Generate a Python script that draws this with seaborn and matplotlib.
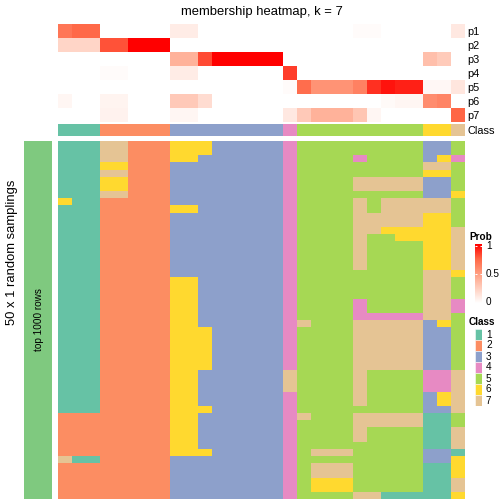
import numpy as np
import pandas as pd
import seaborn as sns
import matplotlib.pyplot as plt
from matplotlib.colors import ListedColormap, LinearSegmentedColormap
from matplotlib.patches import Rectangle

plt.rcParams['font.family'] = ['Liberation Sans', 'DejaVu Sans']

# class colours and names
class_colors = ["#66C2A5", "#FC8D62", "#8DA0CB", "#E78AC3", "#A6D854", "#FFD92F", "#E5C494"]
class_labels = ["1", "2", "3", "4", "5", "6", "7"]
sampling_color = "#7FC97F"

# consensus class of each of the 29 columns
col_class = [1, 1, 1, 2, 2, 2, 2, 2, 3, 3, 3, 3, 3, 3, 3, 3, 4, 5, 5, 5, 5, 5, 5, 5, 5, 5, 6, 6, 7]

# membership probabilities per column (p1 .. p7)
prob_rows = ["p1", "p2", "p3", "p4", "p5", "p6", "p7"]
p1 = [0.68, 0.74, 0.74, 0, 0, 0, 0, 0, 0.10, 0.10, 0, 0, 0, 0, 0, 0, 0, 0, 0, 0, 0, 0.02, 0.02, 0, 0, 0, 0, 0, 0.12]
p2 = [0.22, 0.22, 0.22, 0.80, 0.80, 1, 1, 1, 0, 0, 0, 0, 0, 0, 0, 0, 0, 0, 0, 0, 0, 0, 0, 0, 0, 0, 0, 0, 0]
p3 = [0, 0, 0, 0, 0, 0, 0, 0, 0.40, 0.40, 0.82, 1, 1, 1, 1, 1, 0, 0, 0, 0, 0, 0, 0, 0, 0, 0, 0.33, 0.27, 0]
p4 = [0, 0, 0, 0.02, 0.02, 0, 0, 0, 0.10, 0.10, 0, 0, 0, 0, 0, 0, 0.85, 0, 0, 0, 0, 0, 0, 0, 0, 0, 0, 0, 0]
p5 = [0, 0, 0, 0, 0, 0, 0, 0, 0, 0, 0, 0, 0, 0, 0, 0, 0.02, 0.72, 0.55, 0.55, 0.55, 0.63, 0.88, 0.95, 0.92, 0.92, 0.04, 0.04, 0.13]
p6 = [0.05, 0, 0, 0.06, 0.06, 0, 0, 0, 0.28, 0.28, 0.18, 0, 0, 0, 0, 0, 0, 0, 0, 0, 0, 0, 0, 0.03, 0.05, 0.05, 0.58, 0.62, 0]
p7 = [0, 0, 0, 0.07, 0.07, 0, 0, 0, 0.05, 0.05, 0, 0, 0, 0, 0, 0, 0.12, 0.28, 0.40, 0.40, 0.40, 0.30, 0.05, 0, 0, 0, 0, 0, 0.75]

# class assigned in each of the 50 random samplings (one string per row, spaces only group columns)
samplings = [
    "1 11 77 222 66 6 33333 4 5 555 5 5 5 55 3 3 5",
    "1 11 77 222 66 6 33333 4 5 555 5 5 5 55 3 3 5",
    "1 11 77 222 66 3 33333 4 5 555 4 5 5 55 3 6 4",
    "1 11 66 222 33 3 33333 4 5 555 5 5 5 55 7 7 5",
    "1 11 77 222 33 3 33333 4 5 555 5 5 5 55 6 6 5",
    "1 11 66 222 33 3 33333 4 5 555 7 7 7 77 3 3 5",
    "1 11 66 222 33 3 33333 4 5 555 7 7 7 77 3 3 5",
    "1 11 77 222 33 3 33333 4 5 555 5 5 5 55 3 3 6",
    "6 11 22 222 33 3 33333 4 5 555 7 5 7 77 7 7 5",
    "1 11 22 222 66 3 33333 4 5 555 7 5 7 77 7 7 5",
    "1 11 22 222 33 3 33333 4 5 555 7 7 7 77 6 6 5",
    "1 11 22 222 33 3 33333 4 5 555 7 7 7 77 6 6 5",
    "1 11 22 222 33 3 33333 4 5 555 7 7 6 66 6 6 7",
    "1 11 22 222 33 3 33333 4 5 555 7 5 5 66 6 6 7",
    "1 11 22 222 33 3 33333 4 5 555 7 5 5 55 6 6 7",
    "1 11 22 222 33 3 33333 4 5 555 7 5 5 55 6 6 7",
    "1 11 22 222 33 3 33333 4 5 555 7 5 5 55 6 6 7",
    "1 11 22 222 33 3 33333 4 5 555 7 5 5 55 6 6 7",
    "1 11 22 222 33 3 33333 4 5 555 5 5 5 55 7 7 6",
    "1 11 22 222 66 3 33333 4 5 555 5 5 5 55 7 7 5",
    "1 11 22 222 66 3 33333 4 5 555 5 5 5 55 7 7 5",
    "1 11 22 222 66 3 33333 4 5 555 5 5 5 55 7 7 5",
    "1 11 22 222 66 3 33333 4 5 555 4 5 5 55 7 7 4",
    "1 11 22 222 66 3 33333 4 5 555 4 5 5 55 7 7 4",
    "1 11 22 222 66 3 33333 4 5 555 4 4 4 44 7 7 5",
    "1 11 22 222 66 3 33333 4 7 555 7 7 7 77 3 6 5",
    "1 11 22 222 66 6 33333 4 5 555 7 7 7 77 3 3 5",
    "1 11 22 222 66 6 33333 4 5 555 7 7 7 77 3 3 5",
    "1 11 22 222 66 6 33333 4 5 555 7 7 7 77 3 3 5",
    "1 11 22 222 66 6 33333 4 5 555 7 7 7 77 3 3 5",
    "1 11 22 222 66 6 33333 4 5 555 7 7 7 77 3 3 5",
    "1 11 22 222 66 6 33333 4 5 555 7 7 7 77 3 3 5",
    "1 11 22 222 66 3 33333 7 5 555 7 5 5 55 4 4 7",
    "1 11 22 222 66 3 33333 7 5 555 7 5 5 55 4 4 7",
    "1 11 22 222 66 3 33333 7 5 555 7 5 5 55 4 4 7",
    "1 11 22 222 66 3 33333 4 5 555 7 5 5 55 3 6 7",
    "1 11 22 222 66 3 33333 4 5 555 7 5 5 55 3 6 7",
    "1 11 22 222 66 6 33333 4 5 555 5 5 5 55 3 3 7",
    "2 22 22 222 66 3 33333 4 7 555 7 7 7 77 1 1 5",
    "2 22 22 222 66 3 33333 4 5 555 7 7 7 77 1 1 5",
    "2 22 22 222 66 3 33333 4 5 555 7 5 5 55 1 1 7",
    "2 22 22 222 66 3 33333 4 5 555 7 5 5 55 1 1 7",
    "2 22 22 222 66 3 33333 4 5 555 5 5 5 55 1 1 7",
    "2 22 22 222 66 6 33333 4 5 777 5 5 5 55 3 3 1",
    "7 11 22 222 33 3 33333 4 5 555 5 5 5 55 3 3 6",
    "2 22 22 222 33 3 33333 4 5 777 5 5 5 55 1 1 6",
    "2 22 22 222 33 3 33333 4 5 777 5 5 5 55 1 1 6",
    "2 22 22 222 33 3 33333 4 5 666 5 5 5 55 1 1 7",
    "2 22 22 222 33 3 33333 4 5 666 5 5 5 55 1 1 7",
    "2 22 22 222 33 3 33333 4 5 555 7 7 1 11 1 1 6",
]

main = pd.DataFrame([[int(ch) for ch in row.replace(" ", "")] for row in samplings])
prob = pd.DataFrame([p1, p2, p3, p4, p5, p6, p7], index=prob_rows)

# white -> red ramp (LAB-like midtones)
prob_cmap = LinearSegmentedColormap.from_list(
    "prob", [(0, "#FFFFFF"), (0.25, "#FFCFBF"), (0.5, "#FF9E81"), (0.75, "#FF6746"), (1, "#FF0000")])
class_cmap = ListedColormap(class_colors)

W = H = 504
fig = plt.figure(figsize=(7, 7), dpi=72)


def box(x0, y0, x1, y1):
    return fig.add_axes([x0 / W, 1 - y1 / H, (x1 - x0) / W, (y1 - y0) / H])


def put(x, y, s, **kw):
    fig.text(x / W, 1 - y / H, s, **kw)


# probability rows
ax = box(58, 24, 465, 122)
sns.heatmap(prob, ax=ax, cmap=prob_cmap, vmin=0, vmax=1, cbar=False,
            xticklabels=False, yticklabels=True)
ax.yaxis.tick_right()
ax.tick_params(length=0, pad=2, labelsize=11)
plt.setp(ax.get_yticklabels(), rotation=0)

# class row
ax = box(58, 124, 465, 136)
sns.heatmap(pd.DataFrame([col_class], index=["Class"]), ax=ax, cmap=class_cmap,
            vmin=0.5, vmax=7.5, cbar=False, xticklabels=False, yticklabels=True)
ax.yaxis.tick_right()
ax.tick_params(length=0, pad=2, labelsize=11)
plt.setp(ax.get_yticklabels(), rotation=0)

# main membership matrix
ax = box(58, 141, 465, 499)
sns.heatmap(main, ax=ax, cmap=class_cmap, vmin=0.5, vmax=7.5, cbar=False,
            xticklabels=False, yticklabels=False)

# left annotation bar
ax = box(24, 141, 52, 499)
sns.heatmap(pd.DataFrame(np.ones((len(samplings), 1))), ax=ax,
            cmap=ListedColormap([sampling_color]), cbar=False,
            xticklabels=False, yticklabels=False)
put(39, 320, "top 1000 rows", rotation=90, ha="center", va="center", fontsize=10)
put(12, 252, "50 x 1 random samplings", rotation=90, ha="center", va="center", fontsize=13)

# title
put(261.5, 12, "membership heatmap, k = 7", ha="center", va="center", fontsize=13)

# Prob legend
put(469, 237, "Prob", ha="left", va="center", fontsize=10, fontweight="bold")
cax = box(475, 244, 482, 303)
cax.imshow(np.linspace(0, 1, 256)[:, None], aspect="auto", cmap=prob_cmap,
           origin="lower", extent=[0, 1, -0.02, 1.04])
cax.set_xlim(0, 1)
cax.set_ylim(-0.02, 1.04)
for v in [0.5, 1]:
    cax.hlines(v, 0, 0.25, color="white", lw=1)
    cax.hlines(v, 0.75, 1, color="white", lw=1)
cax.axis("off")
for v, s in [(1, "1"), (0.5, "0.5"), (0, "0")]:
    put(486, 302 - 56 * v, s, ha="left", va="center", fontsize=10)

# Class legend
put(469, 322, "Class", ha="left", va="center", fontsize=10, fontweight="bold")
lax = box(475, 329, 482, 406)
for i, c in enumerate(class_colors):
    lax.add_patch(Rectangle((0, i), 1, 1, facecolor=c, edgecolor="white", lw=0.5))
    put(486, 329 + 11 * i + 5.5, class_labels[i], ha="left", va="center", fontsize=10)
lax.set_xlim(0, 1)
lax.set_ylim(7, 0)
lax.axis("off")

fig.savefig("out.png", dpi=72)
